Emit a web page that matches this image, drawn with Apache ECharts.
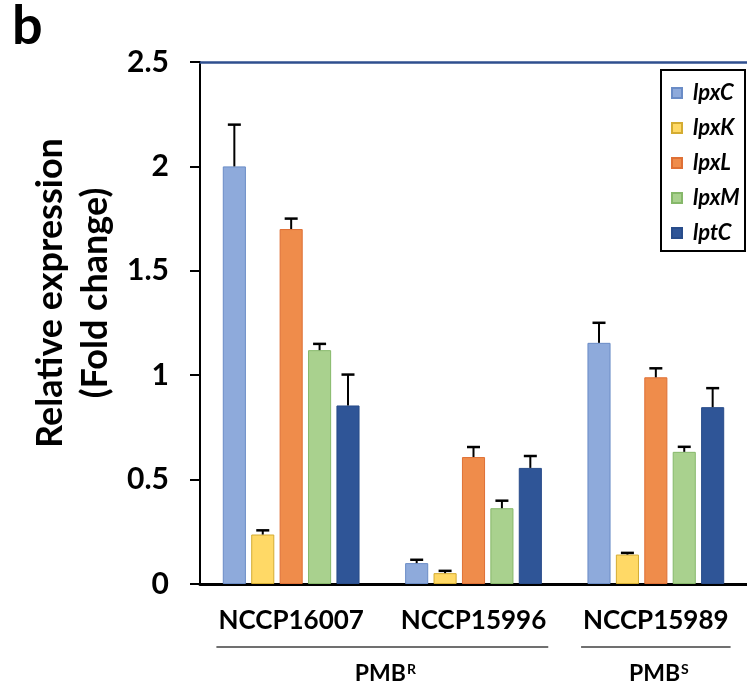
<!DOCTYPE html>
<html>
<head>
<meta charset="utf-8">
<script src="https://cdn.jsdelivr.net/npm/echarts@6/dist/echarts.min.js"></script>
<style>
html,body{margin:0;padding:0;background:#fff;}
#c{width:747px;height:686px;}
</style>
</head>
<body>
<div id="c"></div>
<script>
// ---- data ----
const categories = ['NCCP16007', 'NCCP15996', 'NCCP15989'];
const genes = ['lpxC', 'lpxK', 'lpxL', 'lpxM', 'lptC'];
const lpxC = [2.00, 0.10, 1.155];
const lpxK = [0.237, 0.052, 0.141];
const lpxL = [1.70, 0.608, 0.99];
const lpxM = [1.12, 0.363, 0.633];
const lptC = [0.855, 0.556, 0.847];
const lpxC_err = [0.20, 0.016, 0.096];
const lpxK_err = [0.02, 0.011, 0.008];
const lpxL_err = [0.05, 0.048, 0.043];
const lpxM_err = [0.03, 0.036, 0.024];
const lptC_err = [0.148, 0.057, 0.091];
const groupSup = ['R', 'S'];
const groupFrom = [0, 2];
const groupTo = [1, 2];
const yMin = 0, yMax = 2.5, yInterval = 0.5;

// ---- styles ----
const fills = ['#8eaadb', '#ffd966', '#ef8c4b', '#a9d18e', '#2f5597'];
const borders = ['#6a8cc6', '#d4ac32', '#df7035', '#86b86a', '#284c8a'];
const FONT = 'Lato';
const values = [lpxC, lpxK, lpxL, lpxM, lptC];
const errs = [lpxC_err, lpxK_err, lpxL_err, lpxM_err, lptC_err];

const chart = echarts.init(document.getElementById('c'), null, {renderer: 'canvas'});

const catGapRatio = 0.25, barGapRatio = 0.23;
const barSeries = genes.map((g, i) => ({
  name: g,
  type: 'bar',
  data: values[i],
  barCategoryGap: '25%',
  barGap: '23%',
  itemStyle: {color: fills[i], borderColor: borders[i], borderWidth: 1},
  emphasis: {disabled: true},
  z: 2
}));
const errSeries = genes.map((g, gi) => ({
  name: 'err_' + g,
  type: 'custom',
  data: values[gi].map((v, ci) => [ci, v, errs[gi][ci]]),
  z: 3,
  renderItem: function (params, api) {
    const ci = api.value(0), v = api.value(1), e = api.value(2);
    const base = api.coord([ci, v]);
    const top = api.coord([ci, v + e]);
    const band = api.size([1, 0])[0];
    const n = genes.length;
    const w = band * (1 - catGapRatio) / (n + (n - 1) * barGapRatio);
    const step = w * (1 + barGapRatio);
    const x = base[0] + (gi - (n - 1) / 2) * step;
    return {
      type: 'group',
      children: [
        {type: 'line', shape: {x1: x, y1: base[1], x2: x, y2: top[1]}, style: {stroke: '#000', lineWidth: 2}},
        {type: 'line', shape: {x1: x - 6.5, y1: top[1], x2: x + 6.5, y2: top[1]}, style: {stroke: '#000', lineWidth: 2.5}}
      ]
    };
  }
}));

chart.setOption({
  animation: false,
  backgroundColor: '#fff',
  grid: {left: 200, top: 62, width: 558, bottom: 102, containLabel: false},
  legend: {
    data: genes,
    orient: 'vertical',
    left: 671,
    top: 82,
    padding: 0,
    itemWidth: 10,
    itemHeight: 10,
    itemGap: 13,
    icon: 'rect',
    selectedMode: false,
    textStyle: {fontFamily: FONT, fontSize: 22, fontWeight: 'bold', fontStyle: 'italic', color: '#000', lineHeight: 22, padding: [0, 0, 0, 6]}
  },
  xAxis: [{
    type: 'category',
    data: categories,
    position: 'bottom',
    axisLine: {show: true, lineStyle: {color: '#000', width: 3}},
    axisTick: {show: false},
    axisLabel: {interval: 0, fontFamily: FONT, fontSize: 26, fontWeight: 'bold', color: '#000', margin: 24}
  }, {
    type: 'category',
    data: categories,
    position: 'top',
    axisLine: {show: true, lineStyle: {color: '#2f4f8f', width: 2.5}},
    axisTick: {show: false},
    axisLabel: {show: false}
  }],
  yAxis: {
    type: 'value',
    min: yMin, max: yMax, interval: yInterval,
    axisLine: {show: true, lineStyle: {color: '#000', width: 2}},
    axisTick: {show: true, length: 10, lineStyle: {color: '#000', width: 2}},
    splitLine: {show: false},
    axisLabel: {fontFamily: FONT, fontSize: 30, fontWeight: 'bold', color: '#000', margin: 31}
  },
  series: barSeries.concat(errSeries)
});

// decorations computed from the axis
const band = chart.convertToPixel({xAxisIndex: 0}, 1) - chart.convertToPixel({xAxisIndex: 0}, 0);
const graphics = [
  {type: 'text', left: 12, top: 0, style: {text: 'b', font: 'bold 54px ' + FONT, fill: '#000'}},
  {type: 'text', x: 73, y: 293, rotation: Math.PI / 2,
   style: {text: 'Relative expression\n(Fold change)', font: 'bold 36px ' + FONT, fill: '#000', align: 'center', verticalAlign: 'middle', lineHeight: 45}},
  {type: 'rect', shape: {x: 661, y: 70, width: 84, height: 181}, style: {fill: null, stroke: '#000', lineWidth: 2}}
];
groupSup.forEach((s, k) => {
  const x1 = chart.convertToPixel({xAxisIndex: 0}, groupFrom[k]) - 0.41 * band;
  const x2 = chart.convertToPixel({xAxisIndex: 0}, groupTo[k]) + 0.41 * band;
  graphics.push({type: 'line', shape: {x1: x1, y1: 647, x2: x2, y2: 647}, style: {stroke: '#404040', lineWidth: 1.5}});
  graphics.push({type: 'text', x: (x1 + x2) / 2 + 3, y: 674,
    style: {text: '{a|PMB}{s|' + s + '}', align: 'center', verticalAlign: 'middle',
      rich: {a: {font: 'bold 23px ' + FONT, fill: '#000'}, s: {font: 'bold 14px ' + FONT, fill: '#000', padding: [0, 0, 10, 1]}}}});
});
chart.setOption({graphic: graphics});
</script>
</body>
</html>
